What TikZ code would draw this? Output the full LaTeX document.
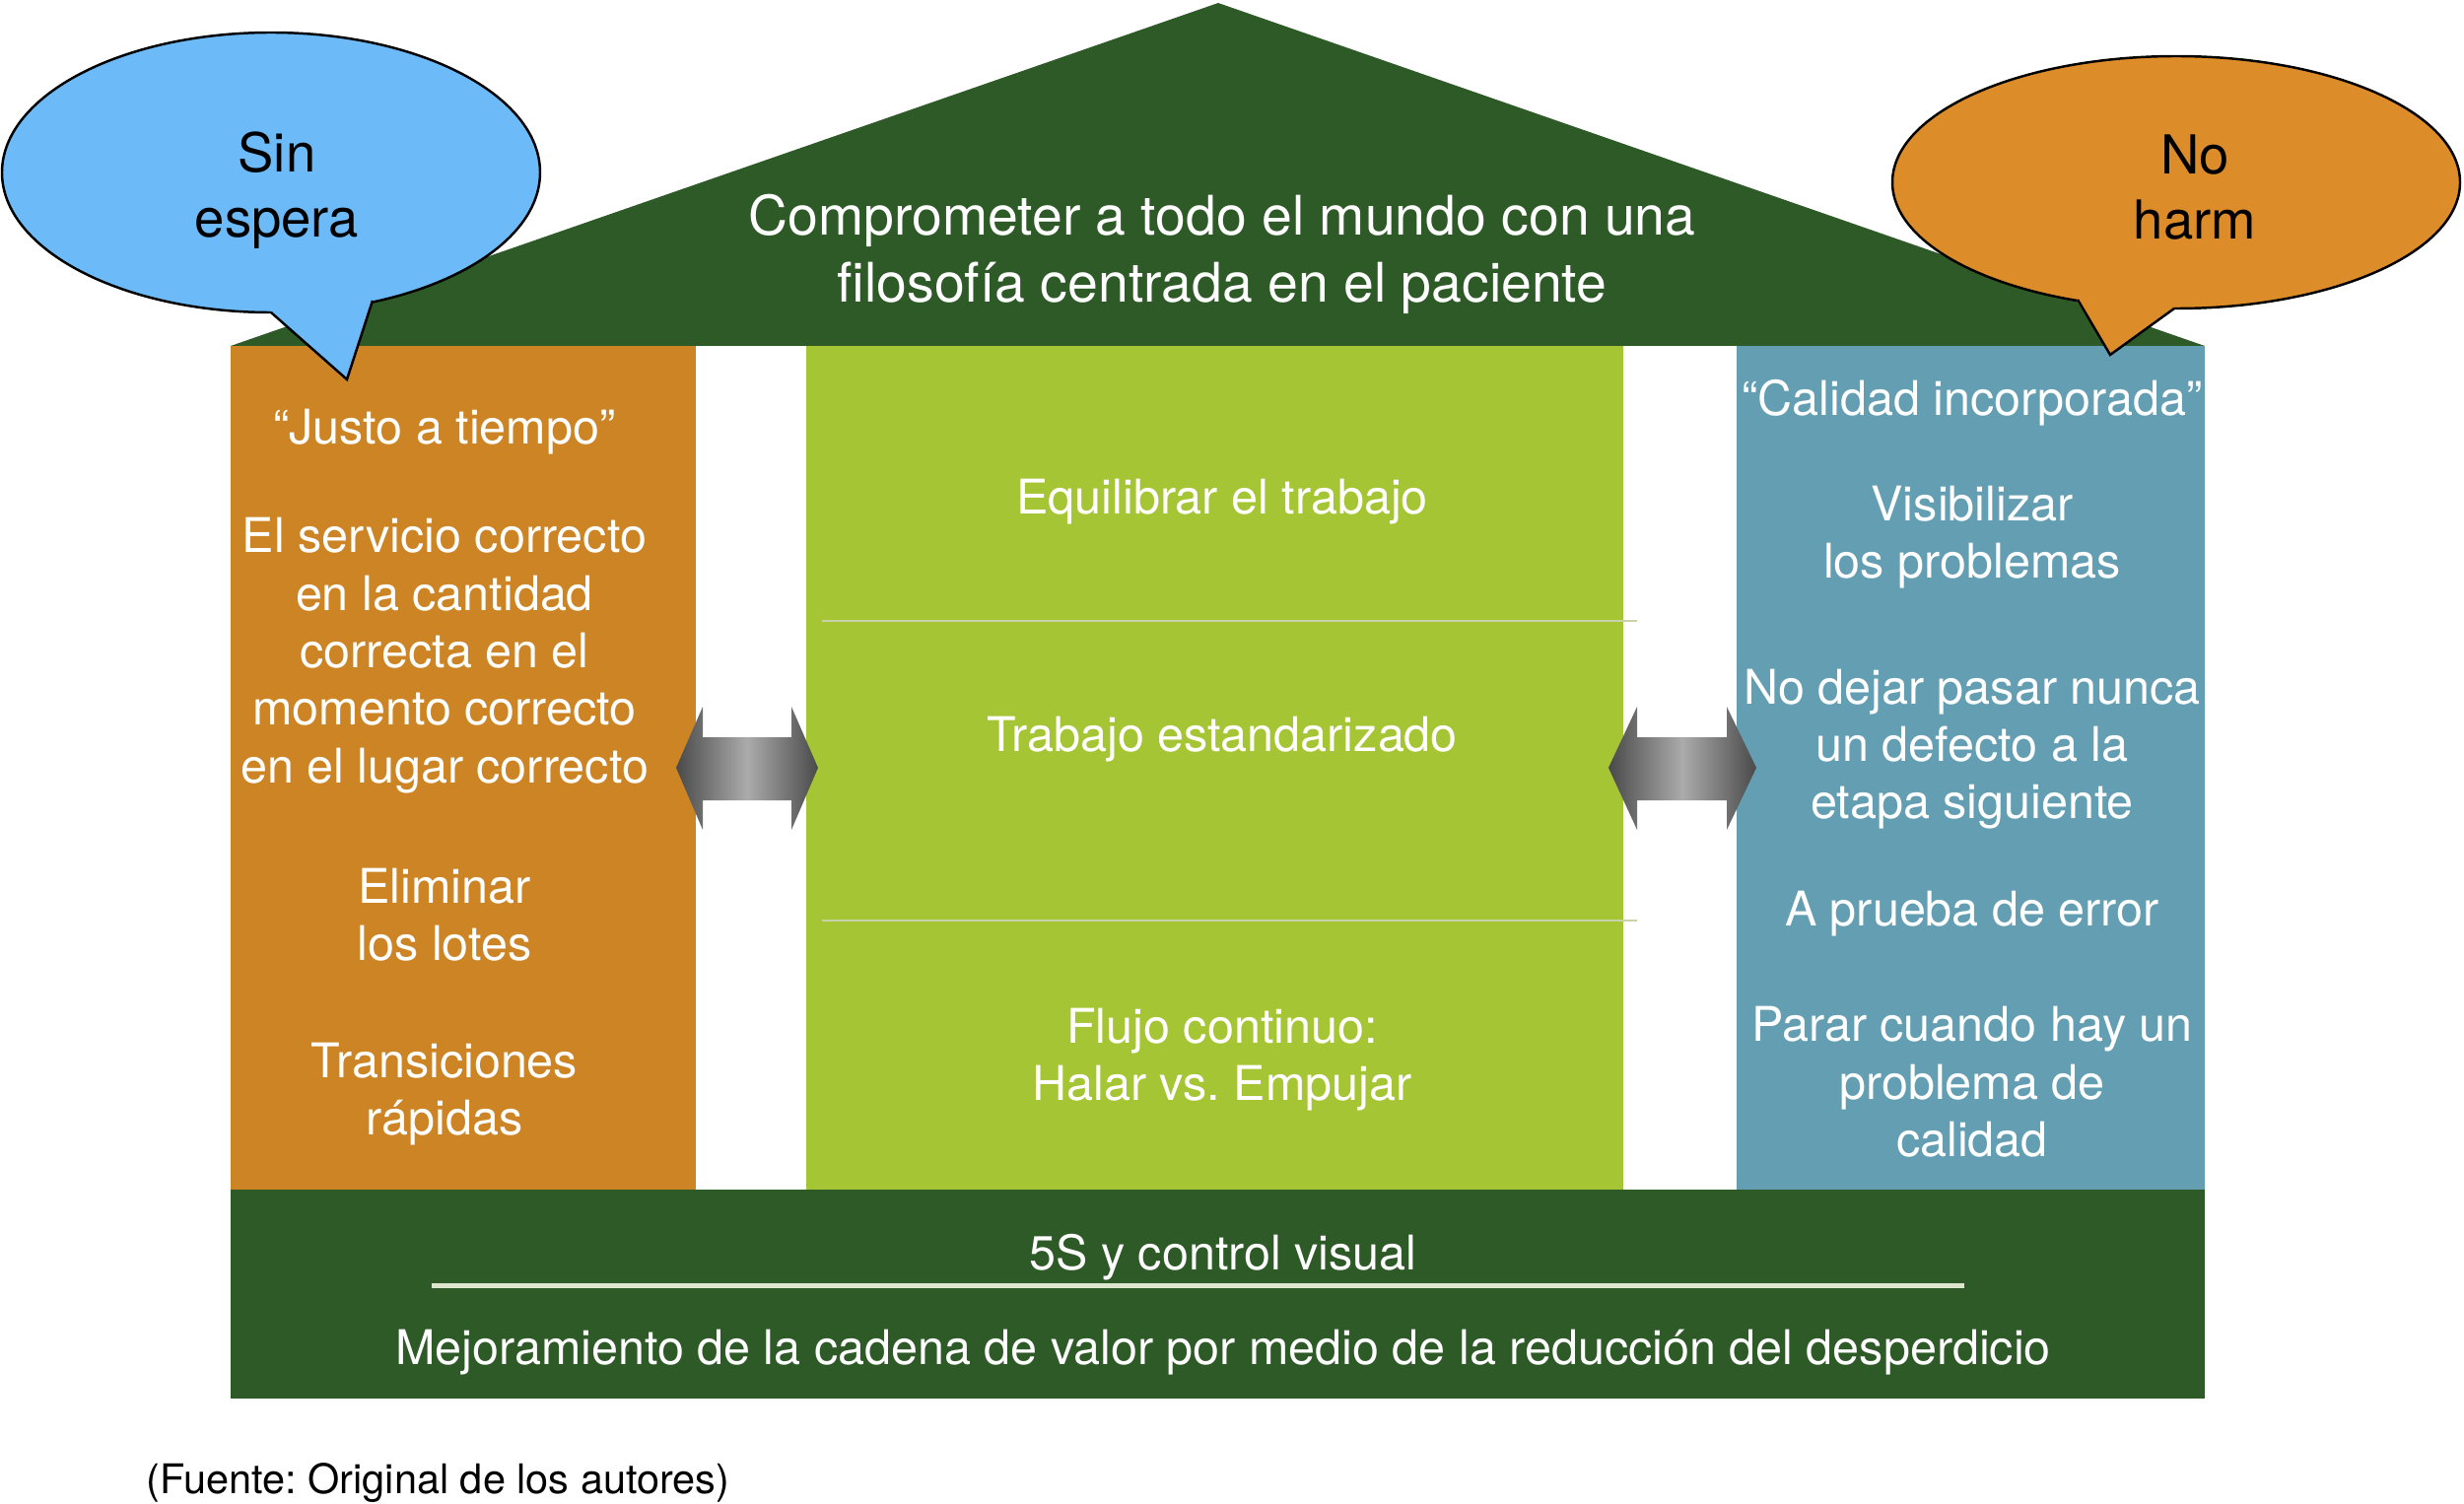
\documentclass[tikz,border=0pt]{standalone}
\usepackage{fontspec}
\setmainfont{TeX Gyre Heros}
\frenchspacing
\definecolor{roofgreen}{HTML}{2E5A27}
\definecolor{colorange}{HTML}{CC8424}
\definecolor{colgreen}{HTML}{A6C535}
\definecolor{colblue}{HTML}{639EB3}
\definecolor{bubblue}{HTML}{6CBAF8}
\definecolor{buborange}{HTML}{DD8C2A}
\definecolor{divline}{HTML}{C9D1A8}
\definecolor{baselinecol}{HTML}{DCE6CC}
\definecolor{arrdark}{HTML}{4A4A4A}
\definecolor{arrlight}{HTML}{ABABAB}
\begin{document}
\begin{tikzpicture}[x=0.1mm,y=-0.1mm,
  coltext/.style={text=white, align=center, inner sep=0pt, font=\fontsize{13.8}{16.6}\selectfont},
  rooftext/.style={text=white, align=center, inner sep=0pt, font=\fontsize{15.75}{19.5}\selectfont},
  bubtext/.style={text=black, align=center, inner sep=0pt, font=\fontsize{15.5}{19}\selectfont},
  arrowshade/.style={left color=arrdark, right color=arrdark, middle color=arrlight},
  bubline/.style={draw=black, line width=0.7pt}]
\useasboundingbox (0,0) rectangle (2500,1526);

% roof
\fill[roofgreen] (234,351) -- (1236,3) -- (2237,351) -- cycle;
% columns
\fill[colorange] (234,351) rectangle (706,1207);
\fill[colgreen] (818,351) rectangle (1647,1207);
\fill[colblue] (1762,351) rectangle (2237,1207);
% base
\fill[roofgreen] (234,1207) rectangle (2237,1419);
\fill[baselinecol] (438,1301.5) rectangle (1993,1306.5);
% dividers in middle column
\draw[divline, line width=0.2mm] (834,630) -- (1661,630);
\draw[divline, line width=0.2mm] (834,934) -- (1661,934);

% double arrows
\shade[arrowshade] (686,779) -- (713,717) -- (713,748) -- (803,748) -- (803,717) -- (830,779)
  -- (803,842) -- (803,812) -- (713,812) -- (713,842) -- cycle;
\shade[arrowshade] (1632,779) -- (1661,717) -- (1661,748) -- (1752,748) -- (1752,717) -- (1782,779)
  -- (1752,842) -- (1752,812) -- (1661,812) -- (1661,842) -- cycle;

% left bubble
\fill[bubblue, bubline] (275,175) ellipse [x radius=27.3mm, y radius=14.2mm];
\fill[bubblue] (270,305) -- (276,318) -- (352,385) -- (377,306) -- (370,295) -- cycle;
\draw[bubline, line join=miter] (275,317) -- (352,385) -- (378,305);
% right bubble
\fill[buborange, bubline] (2208,185) ellipse [x radius=28.8mm, y radius=12.8mm];
\fill[buborange] (2115,290) -- (2107,305) -- (2141,360) -- (2206,314) -- (2200,300) -- cycle;
\draw[bubline, line join=miter] (2108,304) -- (2141,360) -- (2206,313);

% texts
\node[bubtext] (sinespera) at (281,193) {Sin\\espera};
\node[bubtext] (noharm) at (2227,190) {No\\harm};
\node[rooftext] (roof) at (1240,258) {Comprometer a todo el mundo con una\\filosofía centrada en el paciente};

\node[coltext] (jat) at (451,438) {“Justo a tiempo”};
\node[coltext] (servicio) at (451,665) {El servicio correcto\\en la cantidad\\correcta en el\\momento correcto\\en el lugar correcto};
\node[coltext] (lotes) at (451,928) {Eliminar\\los lotes};
\node[coltext] (trans) at (451,1110) {Transiciones\\rápidas};

\node[coltext] (equil) at (1240,509) {Equilibrar el trabajo};
\node[coltext] (estand) at (1240,750) {Trabajo estandarizado};
\node[coltext] (flujo) at (1240,1075) {Flujo continuo:\\Halar vs. Empujar};

\node[coltext] (calidad) at (2001,409) {“Calidad incorporada”};
\node[coltext] (visib) at (2001,545) {Visibilizar\\los problemas};
\node[coltext] (nodejar) at (2001,760) {No dejar pasar nunca\\un defecto a la\\etapa siguiente};
\node[coltext] (prueba) at (2001,927) {A prueba de error};
\node[coltext] (parar) at (2001,1098) {Parar cuando hay un\\problema de\\calidad};

\node[coltext] (fives) at (1241,1276) {5S y control visual};
\node[coltext] (mejora) at (1241,1372) {Mejoramiento de la cadena de valor por medio de la reducción del desperdicio};

\node[anchor=west, inner sep=0pt, font=\fontsize{11.8}{14}\selectfont] (fuente) at (148,1505) {(Fuente: Original de los autores)};
\end{tikzpicture}
\end{document}
